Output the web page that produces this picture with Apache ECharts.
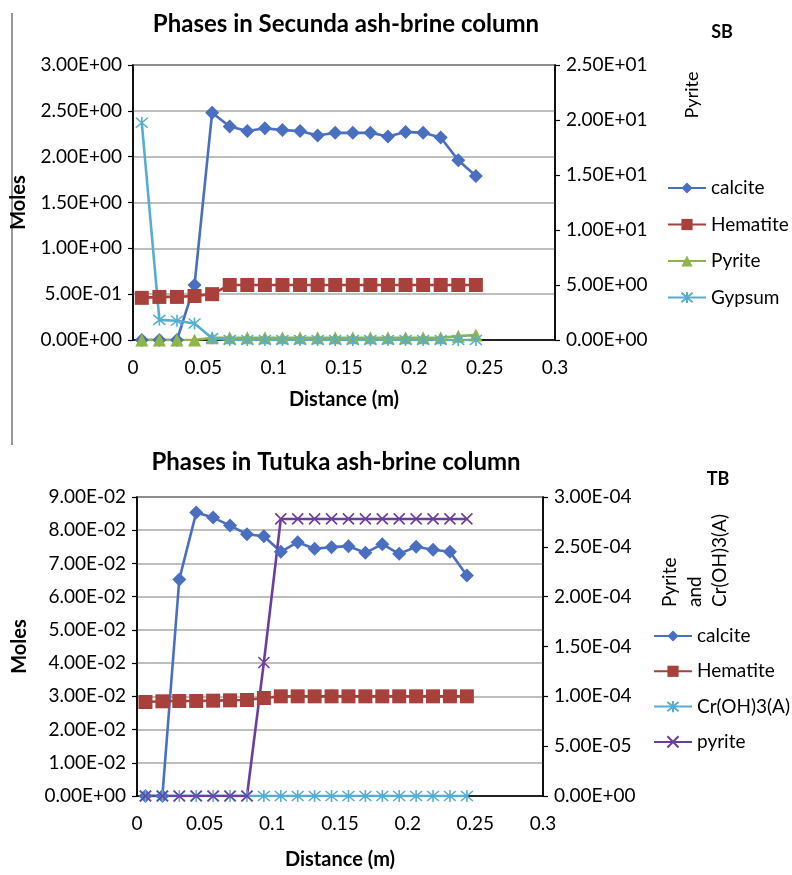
<!DOCTYPE html>
<html>
<head>
<meta charset="utf-8">
<script src="https://cdn.jsdelivr.net/npm/echarts@6/dist/echarts.min.js"></script>
<style>
  html, body { margin: 0; padding: 0; background: #fff; }
  #c1 { position: absolute; left: 0; top: 0; width: 792px; height: 437px; }
  #c2 { position: absolute; left: 0; top: 437px; width: 792px; height: 438px; }
</style>
</head>
<body>
<div id="c1"></div>
<div id="c2"></div>
<script>
// ---------- data ----------
const distance = [0.00625, 0.01875, 0.03125, 0.04375, 0.05625, 0.06875, 0.08125, 0.09375, 0.10625, 0.11875,
                  0.13125, 0.14375, 0.15625, 0.16875, 0.18125, 0.19375, 0.20625, 0.21875, 0.23125, 0.24375];

// Secunda (SB)
const sbCalcite  = [0, 0, 0, 0.60, 2.48, 2.33, 2.28, 2.31, 2.29, 2.28, 2.23, 2.26, 2.26, 2.26, 2.22, 2.27, 2.26, 2.21, 1.96, 1.79];
const sbHematite = [0.46, 0.47, 0.47, 0.48, 0.50, 0.60, 0.60, 0.60, 0.60, 0.60, 0.60, 0.60, 0.60, 0.60, 0.60, 0.60, 0.60, 0.60, 0.60, 0.60];
const sbPyrite   = [0, 0, 0, 0, 0.2, 0.2, 0.2, 0.2, 0.2, 0.2, 0.2, 0.2, 0.2, 0.2, 0.2, 0.2, 0.2, 0.2, 0.35, 0.45];
const sbGypsum   = [2.37, 0.22, 0.21, 0.18, 0.02, 0, 0, 0, 0, 0, 0, 0, 0, 0, 0, 0, 0, 0, 0, 0];

// Tutuka (TB)
const tbCalcite  = [0, 0, 0.0652, 0.0853, 0.0838, 0.0814, 0.0788, 0.0782, 0.0735, 0.0764, 0.0744, 0.0749, 0.0752, 0.0732, 0.0758, 0.0729, 0.0750, 0.0741, 0.0735, 0.0664];
const tbHematite = [0.0283, 0.0285, 0.0286, 0.0286, 0.0287, 0.0288, 0.0289, 0.0295, 0.0300, 0.0300, 0.0300, 0.0300, 0.0300, 0.0300, 0.0300, 0.0300, 0.0300, 0.0300, 0.0300, 0.0300];
const tbCrOH3    = [0, 0, 0, 0, 0, 0, 0, 0, 0, 0, 0, 0, 0, 0, 0, 0, 0, 0, 0, 0];
const tbPyrite   = [0, 0, 0, 0, 0, 0, 0, 1.34e-4, 2.78e-4, 2.78e-4, 2.78e-4, 2.78e-4, 2.78e-4, 2.78e-4, 2.78e-4, 2.78e-4, 2.78e-4, 2.78e-4, 2.78e-4, 2.78e-4];

// axis ticks
const xTicks = { min: 0, max: 0.3, interval: 0.05 };
const sbLeftTicks  = { min: 0, max: 3, interval: 0.5 };
const sbRightTicks = { min: 0, max: 25, interval: 5 };
const tbLeftTicks  = { min: 0, max: 0.09, interval: 0.01 };
const tbRightTicks = { min: 0, max: 0.0003, interval: 0.00005 };

// ---------- style ----------
const FONT = 'Lato, "Open Sans", sans-serif';
const C = {
  calcite: '#4a6fc0', hematite: '#a8403c', pyriteG: '#8fb447', gypsum: '#55aed2', pyriteP: '#6b3d9e'
};
const STAR = 'path://M0,0L10,10M10,0L0,10M5,-1L5,11';
const XSYM = 'path://M0,0L10,10M10,0L0,10';

function sci(v) {
  if (Math.abs(v) < 1e-15) return '0.00E+00';
  const parts = v.toExponential(2).split('e');
  const n = parseInt(parts[1], 10);
  return parts[0] + 'E' + (n < 0 ? '-' : '+') + String(Math.abs(n)).padStart(2, '0');
}
function pairs(ys) { return distance.map((x, i) => [x, ys[i]]); }

function lineSeries(name, ys, color, symbol, size, yAxisIndex, strokeSym) {
  const s = {
    name: name, type: 'line', data: pairs(ys), yAxisIndex: yAxisIndex,
    symbol: symbol, symbolSize: size, showAllSymbol: true,
    lineStyle: { color: color, width: 2.6 },
    itemStyle: { color: color },
    emphasis: { disabled: true }, animation: false
  };
  if (strokeSym) {
    s.itemStyle = { color: 'none', borderColor: color, borderWidth: 1.6 };
  }
  return s;
}

function xAxisCfg() {
  return {
    type: 'value', min: xTicks.min, max: xTicks.max, interval: xTicks.interval,
    name: 'Distance (m)', nameLocation: 'middle',
    nameTextStyle: { fontFamily: FONT, fontSize: 20, fontWeight: 'bold', color: '#000', verticalAlign: 'top' },
    axisLine: { show: true, lineStyle: { color: '#000', width: 1.5 } },
    axisTick: { show: false },
    splitLine: { show: false },
    axisLabel: { fontFamily: FONT, fontSize: 19, color: '#000', margin: 18 }
  };
}
function yAxisCfg(t, pos, withGrid) {
  return {
    type: 'value', position: pos, min: t.min, max: t.max, interval: t.interval,
    axisLine: { show: true, lineStyle: { color: '#000', width: 1.5 } },
    axisTick: { show: true, inside: false, length: 5, lineStyle: { color: '#000', width: 1.2 } },
    splitLine: { show: withGrid, lineStyle: { color: '#a8a8a8', width: 1.5 } },
    axisLabel: { fontFamily: FONT, fontSize: 19, color: '#000', margin: 11, formatter: sci }
  };
}

// ---------- top chart ----------
const ch1 = echarts.init(document.getElementById('c1'));
const x1 = xAxisCfg(); x1.nameGap = 50;
const yl1 = yAxisCfg(sbLeftTicks, 'left', true);
yl1.name = 'Moles'; yl1.nameLocation = 'middle'; yl1.nameGap = 104;
yl1.nameTextStyle = { fontFamily: FONT, fontSize: 20, fontWeight: 'bold', color: '#000' };
const yr1 = yAxisCfg(sbRightTicks, 'right', false);
ch1.setOption({
  animation: false,
  grid: { left: 133, right: 237, top: 65, bottom: 97, show: true, borderColor: '#000', borderWidth: 1.5, backgroundColor: 'transparent' },
  xAxis: x1,
  yAxis: [yl1, yr1],
  legend: {
    orient: 'vertical', left: 662, top: 172, itemWidth: 38, itemHeight: 14, itemGap: 14.5,
    textStyle: { fontFamily: FONT, fontSize: 19, color: '#000', lineHeight: 22 },
    data: ['calcite', 'Hematite', 'Pyrite', 'Gypsum']
  },
  series: [
    lineSeries('calcite', sbCalcite, C.calcite, 'diamond', 14, 0),
    lineSeries('Hematite', sbHematite, C.hematite, 'rect', 14, 0),
    lineSeries('Pyrite', sbPyrite, C.pyriteG, 'triangle', 13, 1),
    lineSeries('Gypsum', sbGypsum, C.gypsum, STAR, 12, 0, true)
  ],
  graphic: [
    { type: 'line', shape: { x1: 12, y1: 13, x2: 12, y2: 437 }, style: { stroke: '#555', lineWidth: 1.2 } },
    { type: 'text', style: { text: 'Phases in Secunda ash-brine column', x: 346, y: 12, align: 'center', fontFamily: FONT, fontSize: 24, fontWeight: 'bold', fill: '#000' } },
    { type: 'text', style: { text: 'SB', x: 722, y: 23, align: 'center', fontFamily: FONT, fontSize: 18, fontWeight: 'bold', fill: '#000' } },
    { type: 'text', rotation: Math.PI / 2, x: 692, y: 95, style: { text: 'Pyrite', x: 0, y: 0, align: 'center', verticalAlign: 'middle', fontFamily: FONT, fontSize: 18, fill: '#000' } }
  ]
});

// ---------- bottom chart ----------
const ch2 = echarts.init(document.getElementById('c2'));
const x2 = xAxisCfg(); x2.nameGap = 54;
const yl2 = yAxisCfg(tbLeftTicks, 'left', true);
yl2.name = 'Moles'; yl2.nameLocation = 'middle'; yl2.nameGap = 107;
yl2.nameTextStyle = { fontFamily: FONT, fontSize: 20, fontWeight: 'bold', color: '#000' };
const yr2 = yAxisCfg(tbRightTicks, 'right', false);
ch2.setOption({
  animation: false,
  grid: { left: 137, right: 249, top: 60, bottom: 73, show: true, borderColor: '#000', borderWidth: 1.5, backgroundColor: 'transparent' },
  xAxis: x2,
  yAxis: [yl2, yr2],
  legend: {
    orient: 'vertical', left: 648, top: 183, itemWidth: 38, itemHeight: 14, itemGap: 13.3,
    textStyle: { fontFamily: FONT, fontSize: 19, color: '#000', lineHeight: 22 },
    data: ['calcite', 'Hematite', 'Cr(OH)3(A)', 'pyrite']
  },
  series: [
    lineSeries('calcite', tbCalcite, C.calcite, 'diamond', 14, 0),
    lineSeries('Hematite', tbHematite, C.hematite, 'rect', 14, 0),
    lineSeries('Cr(OH)3(A)', tbCrOH3, C.gypsum, STAR, 12, 1, true),
    lineSeries('pyrite', tbPyrite, C.pyriteP, XSYM, 11, 1, true)
  ],
  graphic: [
    { type: 'line', shape: { x1: 12, y1: 0, x2: 12, y2: 8 }, style: { stroke: '#555', lineWidth: 1.2 } },
    { type: 'text', style: { text: 'Phases in Tutuka ash-brine column', x: 336, y: 13, align: 'center', fontFamily: FONT, fontSize: 24, fontWeight: 'bold', fill: '#000' } },
    { type: 'text', style: { text: 'TB', x: 718, y: 33, align: 'center', fontFamily: FONT, fontSize: 18, fontWeight: 'bold', fill: '#000' } },
    { type: 'text', rotation: Math.PI / 2, x: 670, y: 170, style: { text: 'Pyrite', x: 0, y: 0, align: 'left', verticalAlign: 'middle', fontFamily: FONT, fontSize: 19, fill: '#000' } },
    { type: 'text', rotation: Math.PI / 2, x: 695, y: 170, style: { text: 'and', x: 0, y: 0, align: 'left', verticalAlign: 'middle', fontFamily: FONT, fontSize: 19, fill: '#000' } },
    { type: 'text', rotation: Math.PI / 2, x: 720, y: 170, style: { text: 'Cr(OH)3(A)', x: 0, y: 0, align: 'left', verticalAlign: 'middle', fontFamily: FONT, fontSize: 19, fill: '#000' } }
  ]
});
</script>
</body>
</html>
